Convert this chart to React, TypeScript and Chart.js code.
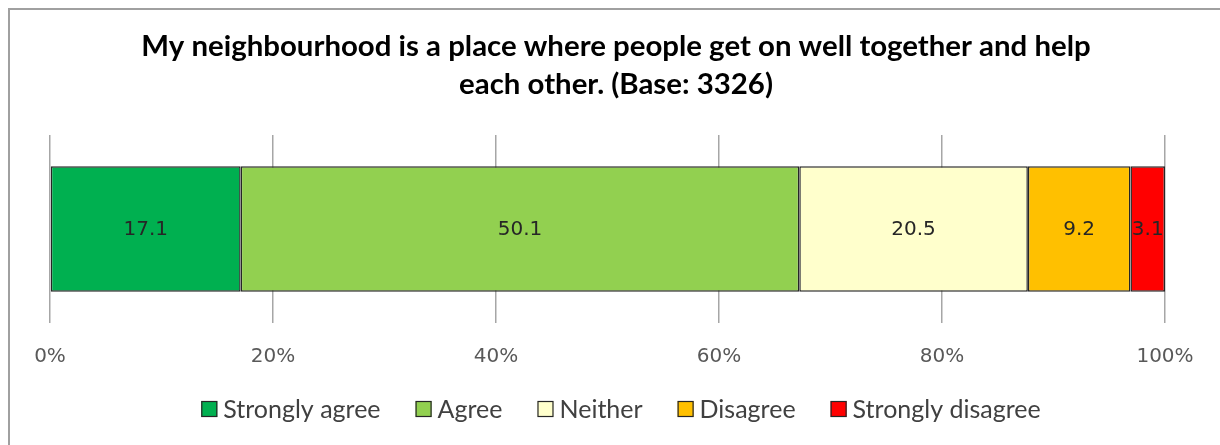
import React, { useEffect, useRef } from "react";
import { Chart, registerables } from "chart.js";

Chart.register(...registerables);

const titleLines = [
  "My neighbourhood is a place where people get on well together and help",
  "each other. (Base: 3326)",
];
const categories = ["Neighbourhood"];
const seriesNames = ["Strongly agree", "Agree", "Neither", "Disagree", "Strongly disagree"];
const seriesValues = [17.1, 50.1, 20.5, 9.2, 3.1];
const seriesColors = ["#00B050", "#92D050", "#FFFFCC", "#FFC000", "#FF0000"];
const xTicks = [0, 20, 40, 60, 80, 100];

const LEGEND_FONT = "25px Lato";

const titlePlugin = {
  id: "titlePlugin",
  afterDraw(chart: any) {
    const ctx = chart.ctx;
    ctx.save();
    ctx.font = "bold 29.4px Lato";
    ctx.fillStyle = "#000000";
    ctx.textAlign = "center";
    ctx.textBaseline = "middle";
    titleLines.forEach((line, i) => {
      ctx.fillText(line, 606, 37 + i * 38);
    });
    ctx.restore();
  },
};

const barLabels = {
  id: "barLabels",
  afterDatasetsDraw(chart: any) {
    const ctx = chart.ctx;
    ctx.save();
    ctx.font = "20px 'DejaVu Sans'";
    ctx.fillStyle = "#262626";
    ctx.textAlign = "center";
    ctx.textBaseline = "middle";
    chart.data.datasets.forEach((ds: any, i: number) => {
      const meta = chart.getDatasetMeta(i);
      meta.data.forEach((el: any, j: number) => {
        const v = ds.data[j];
        const cx = (el.x + el.base) / 2;
        ctx.fillText(v.toFixed(1), cx, el.y + 1);
      });
    });
    ctx.restore();
  },
};

const customLegend = {
  id: "customLegend",
  afterDraw(chart: any) {
    const ctx = chart.ctx;
    ctx.save();
    ctx.font = LEGEND_FONT;
    const box = 16;
    const gapText = 6;
    const gapItem = 35;
    const items = chart.data.datasets.map((ds: any) => ({
      label: ds.label,
      color: ds.backgroundColor,
      w: box + gapText + ctx.measureText(ds.label).width,
    }));
    const total = items.reduce((s: number, it: any) => s + it.w, 0) + gapItem * (items.length - 1);
    let x = 605 - total / 2 + 6;
    const y = 399;
    items.forEach((it: any) => {
      ctx.fillStyle = it.color;
      ctx.fillRect(x, y - box / 2, box, box);
      ctx.strokeStyle = "#262626";
      ctx.lineWidth = 1.2;
      ctx.strokeRect(x + 0.5, y - box / 2 + 0.5, box - 1, box - 1);
      ctx.fillStyle = "#404040";
      ctx.textAlign = "left";
      ctx.textBaseline = "middle";
      ctx.fillText(it.label, x + box + gapText, y + 1);
      x += it.w + gapItem;
    });
    ctx.restore();
  },
};

export default function App() {
  const ref = useRef<HTMLCanvasElement>(null);
  useEffect(() => {
    if (!ref.current) return;
    const chart = new Chart(ref.current, {
      type: "bar",
      data: {
        labels: categories,
        datasets: seriesNames.map((name, i) => ({
          label: name,
          data: [seriesValues[i]],
          backgroundColor: seriesColors[i],
          borderColor: "#262626",
          borderWidth: 1.5,
          borderSkipped: false,
          barPercentage: 0.668,
          categoryPercentage: 1,
        })),
      },
      options: {
        indexAxis: "y",
        animation: false,
        responsive: false,
        layout: { padding: { left: 40, right: 55, top: 125, bottom: 54 } },
        scales: {
          x: {
            stacked: true,
            min: 0,
            max: 100,
            afterBuildTicks: (axis: any) => {
              axis.ticks = xTicks.map((v) => ({ value: v }));
            },
            ticks: {
              callback: (v: any) => v + "%",
              color: "#595959",
              font: { family: "'DejaVu Sans'", size: 20 },
              padding: 22,
              maxRotation: 0,
            },
            grid: { color: "#a6a6a6", lineWidth: 1.5, drawTicks: false },
            border: { display: false },
          },
          y: {
            stacked: true,
            display: false,
          },
        },
        plugins: {
          title: { display: false },
          legend: { display: false },
          tooltip: { enabled: false },
        },
      },
      plugins: [barLabels, customLegend, titlePlugin],
    });
    return () => chart.destroy();
  }, []);
  return (
    <div
      style={{
        position: "fixed",
        left: 8,
        top: 8,
        width: 1212,
        height: 437,
        borderTop: "2px solid #a0a0a0",
        borderLeft: "2px solid #a0a0a0",
        boxSizing: "border-box",
        background: "#fff",
        overflow: "hidden",
      }}
    >
      <canvas ref={ref} width={1210} height={435} style={{ display: "block" }} />
    </div>
  );
}
